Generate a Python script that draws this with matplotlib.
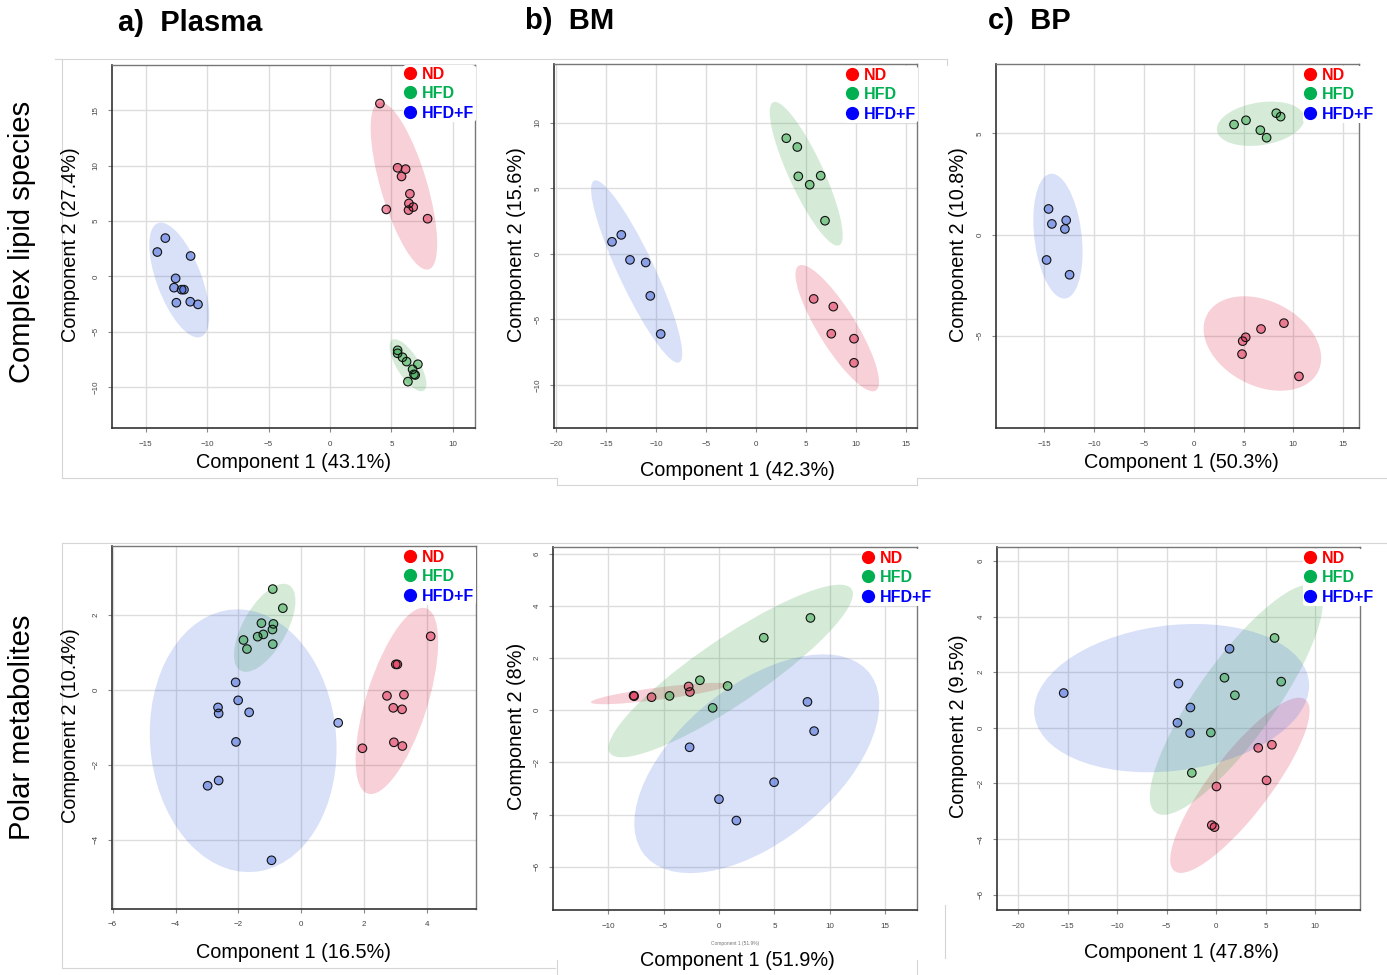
import numpy as np
import matplotlib.pyplot as plt
from matplotlib.patches import Ellipse
from matplotlib.lines import Line2D

plt.rcParams['font.family'] = ['Liberation Sans', 'DejaVu Sans']

W, H = 1387, 975
groups = ['ND', 'HFD', 'HFD+F']
legend_cols = ['#FF0000', '#00B050', '#0000FF']
point_cols = ['#E0284E', '#2FA848', '#3A5FD8']
ell_cols = ['#DC143C', '#2E9E3A', '#4169E1']

# complex lipid species, plasma
lip_plasma_nd_x = [4.06, 5.50, 6.15, 5.82, 6.50, 6.42, 6.77, 6.39, 4.58, 7.94]
lip_plasma_nd_y = [15.62, 9.81, 9.69, 9.03, 7.46, 6.59, 6.26, 5.99, 6.05, 5.21]
lip_plasma_hfd_x = [5.50, 5.50, 5.90, 6.23, 7.15, 6.72, 6.83, 6.93, 6.34]
lip_plasma_hfd_y = [-6.68, -6.95, -7.31, -7.70, -7.94, -8.40, -8.85, -8.91, -9.51]
lip_plasma_hfdf_x = [-13.41, -14.06, -11.35, -12.57, -12.70, -12.08, -11.89, -12.51, -11.38, -10.75]
lip_plasma_hfdf_y = [3.46, 2.20, 1.84, -0.18, -1.02, -1.20, -1.20, -2.38, -2.29, -2.53]

# complex lipid species, BM
lip_bm_nd_x = [5.77, 7.73, 7.53, 9.80, 9.80]
lip_bm_nd_y = [-3.44, -4.03, -6.10, -6.48, -8.32]
lip_bm_hfd_x = [3.03, 4.13, 4.23, 5.37, 6.47, 6.90]
lip_bm_hfd_y = [8.83, 8.16, 5.92, 5.28, 5.97, 2.53]
lip_bm_hfdf_x = [-14.40, -13.47, -12.60, -11.03, -10.57, -9.53]
lip_bm_hfdf_y = [0.92, 1.45, -0.46, -0.66, -3.21, -6.12]

# complex lipid species, BP
lip_bp_nd_x = [5.22, 4.92, 4.85, 6.76, 9.06, 10.57]
lip_bp_nd_y = [-5.07, -5.26, -5.90, -4.66, -4.37, -7.00]
lip_bp_hfd_x = [4.05, 5.25, 6.69, 7.32, 8.29, 8.73]
lip_bp_hfd_y = [5.44, 5.65, 5.16, 4.79, 6.00, 5.83]
lip_bp_hfdf_x = [-14.58, -14.25, -12.81, -12.94, -14.78, -12.47]
lip_bp_hfdf_y = [1.27, 0.53, 0.71, 0.28, -1.25, -1.98]

# polar metabolites, plasma
pol_plasma_nd_x = [4.11, 3.00, 3.05, 2.72, 3.26, 2.92, 3.20, 2.94, 3.21, 1.94]
pol_plasma_nd_y = [1.43, 0.68, 0.68, -0.16, -0.13, -0.48, -0.52, -1.40, -1.50, -1.56]
pol_plasma_hfd_x = [-0.91, -0.59, -1.27, -0.89, -0.92, -1.21, -1.39, -1.84, -0.91, -1.73]
pol_plasma_hfd_y = [2.69, 2.18, 1.78, 1.76, 1.61, 1.48, 1.42, 1.33, 1.22, 1.09]
pol_plasma_hfdf_x = [-2.09, -2.01, -2.65, -2.63, -1.66, 1.17, -2.08, -2.63, -2.98, -0.95]
pol_plasma_hfdf_y = [0.20, -0.28, -0.47, -0.63, -0.60, -0.88, -1.39, -2.42, -2.56, -4.55]

# polar metabolites, BM
pol_bm_nd_x = [-7.70, -7.65, -6.08, -2.74, -2.62]
pol_bm_nd_y = [0.56, 0.54, 0.50, 0.91, 0.70]
pol_bm_hfd_x = [8.25, 4.04, -1.72, 0.78, -4.46, -0.57]
pol_bm_hfd_y = [3.54, 2.78, 1.15, 0.93, 0.55, 0.09]
pol_bm_hfdf_x = [7.98, 8.58, -2.65, 4.97, 0.00, 1.57]
pol_bm_hfdf_y = [0.32, -0.80, -1.42, -2.76, -3.41, -4.23]

# polar metabolites, BP
pol_bp_nd_x = [4.25, 5.63, 5.09, 0.03, -0.44, -0.17]
pol_bp_nd_y = [-0.72, -0.61, -1.89, -2.11, -3.50, -3.57]
pol_bp_hfd_x = [5.90, 6.57, 0.84, 1.89, -0.54, -2.46]
pol_bp_hfd_y = [3.23, 1.66, 1.80, 1.17, -0.17, -1.62]
pol_bp_hfdf_x = [-15.40, -3.81, 1.35, -2.60, -3.91, -2.63]
pol_bp_hfdf_y = [1.25, 1.59, 2.84, 0.73, 0.18, -0.19]

xlabels = ['Component 1 (43.1%)', 'Component 1 (42.3%)', 'Component 1 (50.3%)',
           'Component 1 (16.5%)', 'Component 1 (51.9%)', 'Component 1 (47.8%)']
ylabels = ['Component 2 (27.4%)', 'Component 2 (15.6%)', 'Component 2 (10.8%)',
           'Component 2 (10.4%)', 'Component 2 (8%)', 'Component 2 (9.5%)']

panels = [
    dict(data=[(lip_plasma_nd_x, lip_plasma_nd_y), (lip_plasma_hfd_x, lip_plasma_hfd_y), (lip_plasma_hfdf_x, lip_plasma_hfdf_y)],
         box=(112, 65, 475, 428), xlim=(-17.75, 11.8), ylim=(-13.7, 19.1),
         xt=np.arange(-15, 11, 5), yt=np.arange(-10, 16, 5), leg=(411, 74)),
    dict(data=[(lip_bm_nd_x, lip_bm_nd_y), (lip_bm_hfd_x, lip_bm_hfd_y), (lip_bm_hfdf_x, lip_bm_hfdf_y)],
         box=(554, 64, 917, 428), xlim=(-20.2, 16.1), ylim=(-13.3, 14.5),
         xt=np.arange(-20, 16, 5), yt=np.arange(-10, 11, 5), leg=(853, 75)),
    dict(data=[(lip_bp_nd_x, lip_bp_nd_y), (lip_bp_hfd_x, lip_bp_hfd_y), (lip_bp_hfdf_x, lip_bp_hfdf_y)],
         box=(996, 64, 1359, 428), xlim=(-19.86, 16.6), ylim=(-9.55, 8.43),
         xt=np.arange(-15, 16, 5), yt=np.arange(-5, 6, 5), leg=(1311, 75)),
    dict(data=[(pol_plasma_nd_x, pol_plasma_nd_y), (pol_plasma_hfd_x, pol_plasma_hfd_y), (pol_plasma_hfdf_x, pol_plasma_hfdf_y)],
         box=(112, 546, 476, 909), xlim=(-6.02, 5.55), ylim=(-5.85, 3.84),
         xt=np.arange(-6, 5, 2), yt=np.arange(-4, 3, 2), leg=(411, 557)),
    dict(data=[(pol_bm_nd_x, pol_bm_nd_y), (pol_bm_hfd_x, pol_bm_hfd_y), (pol_bm_hfdf_x, pol_bm_hfdf_y)],
         box=(553, 547, 917, 910), xlim=(-14.97, 17.86), ylim=(-7.66, 6.26),
         xt=np.arange(-10, 16, 5), yt=np.arange(-6, 7, 2), leg=(869, 558)),
    dict(data=[(pol_bp_nd_x, pol_bp_nd_y), (pol_bp_hfd_x, pol_bp_hfd_y), (pol_bp_hfdf_x, pol_bp_hfdf_y)],
         box=(997, 547, 1360, 910), xlim=(-22.14, 14.53), ylim=(-6.55, 6.50),
         xt=np.arange(-20, 11, 5), yt=np.arange(-6, 7, 2), leg=(1311, 558)),
]
xlab_pos = [(294, 463), (737, 470), (1181, 463), (294, 953), (737, 960), (1181, 953)]
ylab_pos = [(70, 245), (517, 245), (958, 245), (70, 726), (517, 726), (958, 726)]


def fx(x):
    return x / W


def fy(y):
    return 1 - y / H


def conf_ellipse(ax, x, y, color):
    pts = np.column_stack([x, y])
    mu = pts.mean(axis=0)
    vals, vecs = np.linalg.eigh(np.cov(pts, rowvar=False))
    order = vals.argsort()[::-1]
    vals, vecs = vals[order], vecs[:, order]
    k = np.sqrt(5.991)  # 95% level, 2 df
    ang = np.degrees(np.arctan2(vecs[1, 0], vecs[0, 0]))
    ax.add_patch(Ellipse(mu, 2 * k * np.sqrt(vals[0]), 2 * k * np.sqrt(vals[1]), angle=ang,
                         facecolor=color, alpha=0.2, edgecolor='none', zorder=1))


fig = plt.figure(figsize=(W / 100, H / 100), dpi=100)

for i, p in enumerate(panels):
    l, t, r, b = p['box']
    ax = fig.add_axes([fx(l), fy(b), (r - l) / W, (b - t) / H])
    for (x, y), c in zip(p['data'], ell_cols):
        conf_ellipse(ax, x, y, c)
    for (x, y), c in zip(p['data'], point_cols):
        ax.scatter(x, y, s=38, facecolor=c, alpha=0.5, edgecolor='none', zorder=3)
        ax.scatter(x, y, s=38, facecolor='none', edgecolor='#111111', linewidth=0.8, zorder=4)
    ax.set_xlim(p['xlim'])
    ax.set_ylim(p['ylim'])
    ax.set_xticks(p['xt'])
    ax.set_yticks(p['yt'])
    ax.grid(True, color='#DDDDDD', linewidth=1.0, zorder=0)
    ax.set_axisbelow(True)
    ax.tick_params(labelsize=5.8, labelcolor='#444444', color='#888888', length=3, width=0.8, pad=6)
    for lab in ax.get_yticklabels():
        lab.set_rotation(90)
        lab.set_va('center')
    for side in ['top', 'right']:
        ax.spines[side].set_color('#777777')
        ax.spines[side].set_linewidth(1.0)
    for side in ['left', 'bottom']:
        ax.spines[side].set_color('#333333')
        ax.spines[side].set_linewidth(1.2)

    handles = [Line2D([], [], marker='o', ls='', color=c, markersize=8.5) for c in legend_cols]
    dx, dy = p['leg']
    leg = ax.legend(handles, groups, loc='upper left',
                    bbox_to_anchor=(fx(dx - 8.5), fy(dy - 9)), bbox_transform=fig.transFigure,
                    frameon=True, facecolor='white', edgecolor='none', framealpha=1,
                    prop={'weight': 'bold', 'size': 11.5}, handlelength=0.8, handletextpad=0.3,
                    borderpad=0.1, labelspacing=0.28, borderaxespad=0)
    for txt, c in zip(leg.get_texts(), legend_cols):
        txt.set_color(c)

    fig.text(fx(xlab_pos[i][0]), fy(xlab_pos[i][1]), xlabels[i], fontsize=14.3, ha='center', va='center')
    fig.text(fx(ylab_pos[i][0]), fy(ylab_pos[i][1]), ylabels[i], fontsize=14.3, ha='center', va='center',
             rotation=90)

# tiny leftover label under the BM metabolite panel
fig.text(fx(735), fy(944), 'Component 1 (51.9%)', fontsize=3.5, color='#777777', ha='center', va='center')

fig.text(fx(118), fy(23), 'a)  Plasma', fontsize=21, fontweight='bold', ha='left', va='center')
fig.text(fx(525), fy(21), 'b)  BM', fontsize=21, fontweight='bold', ha='left', va='center')
fig.text(fx(988), fy(21), 'c)  BP', fontsize=21, fontweight='bold', ha='left', va='center')
fig.text(fx(22), fy(242), 'Complex lipid species', fontsize=21, rotation=90, ha='center', va='center')
fig.text(fx(22), fy(727), 'Polar metabolites', fontsize=21, rotation=90, ha='center', va='center')

# faint borders of the pasted panels
frame_lines = [
    ((55, 59), (947, 59)), ((62, 59), (62, 478)), ((62, 478), (557, 478)),
    ((557, 478), (557, 485)), ((557, 485), (917, 485)), ((917, 478), (917, 485)),
    ((917, 478), (1387, 478)), ((947, 59), (947, 65)),
    ((62, 543), (1387, 543)), ((62, 543), (62, 968)), ((62, 968), (555, 968)),
    ((945, 905), (945, 958)), ((557, 960), (557, 975)), ((917, 960), (917, 975)),
]
for (x0, y0), (x1, y1) in frame_lines:
    fig.add_artist(Line2D([fx(x0), fx(x1)], [fy(y0), fy(y1)], transform=fig.transFigure,
                          color='#D5D5D5', linewidth=0.8))

fig.savefig('out.png', dpi=100)
